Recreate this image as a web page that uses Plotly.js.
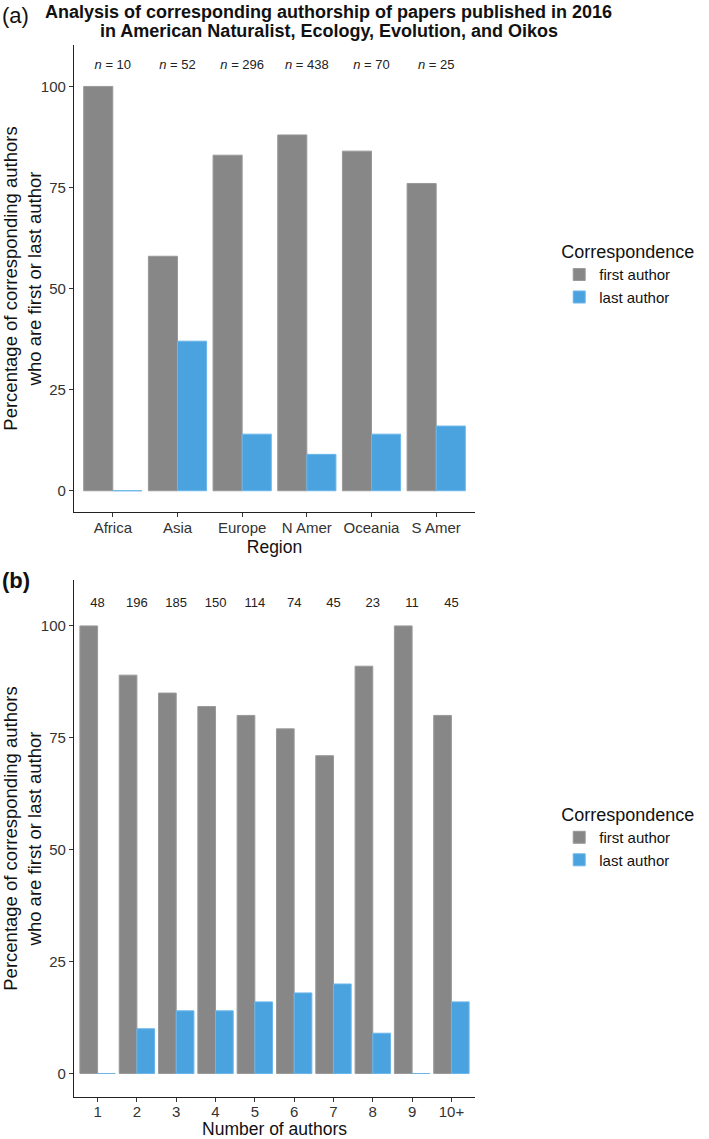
<!DOCTYPE html>
<html>
<head>
<meta charset="utf-8">
<script src="https://cdn.plot.ly/plotly-3.0.1.min.js"></script>
<style>html,body{margin:0;padding:0;background:#fff;}#chart{width:709px;height:1139px;}</style>
</head>
<body>
<div id="chart"></div>
<script>
// ---- data ----
const regions = ["Africa", "Asia", "Europe", "N Amer", "Oceania", "S Amer"];
const regionFirst = [100, 58, 83, 88, 84, 76];
const regionLast = [0, 37, 14, 9, 14, 16];
const regionN = [10, 52, 296, 438, 70, 25];

const nAuthors = ["1", "2", "3", "4", "5", "6", "7", "8", "9", "10+"];
const authorsFirst = [100, 89, 85, 82, 80, 77, 71, 91, 100, 80];
const authorsLast = [0, 10, 14, 14, 16, 18, 20, 9, 0, 16];
const authorsN = [48, 196, 185, 150, 114, 74, 45, 23, 11, 45];

const seriesNames = ["first author", "last author"];
const titleLines = [
  "Analysis of corresponding authorship of papers published in 2016",
  "in American Naturalist, Ecology, Evolution, and Oikos"
];

// ---- styling ----
const FONT = '"Liberation Sans", Arial, Helvetica, sans-serif';
const GRAY = '#878787';
const BLUE = '#4aa3df';
const labelY = 105;

function barTrace(x, y, name, color, xa, ya, legend) {
  return {
    type: 'bar', x: x, y: y, name: name, xaxis: xa, yaxis: ya,
    legend: legend, showlegend: true,
    marker: {color: color, line: {color: color === BLUE ? '#6bb6ea' : '#999999', width: 1}},
    hoverinfo: 'x+y+name'
  };
}

const traces = [
  barTrace(regions, regionFirst, seriesNames[0], GRAY, 'x', 'y', 'legend'),
  barTrace(regions, regionLast, seriesNames[1], BLUE, 'x', 'y', 'legend'),
  {
    type: 'scatter', mode: 'text', x: regions, y: regions.map(() => labelY),
    text: regionN.map(v => '<i>n</i> = ' + v), xaxis: 'x', yaxis: 'y',
    textfont: {family: FONT, size: 13, color: '#222'}, showlegend: false, hoverinfo: 'skip'
  },
  barTrace(nAuthors, authorsFirst, seriesNames[0], GRAY, 'x2', 'y2', 'legend2'),
  barTrace(nAuthors, authorsLast, seriesNames[1], BLUE, 'x2', 'y2', 'legend2'),
  {
    type: 'scatter', mode: 'text', x: nAuthors, y: nAuthors.map(() => labelY),
    text: authorsN.map(v => String(v)), xaxis: 'x2', yaxis: 'y2',
    textfont: {family: FONT, size: 13, color: '#222'}, showlegend: false, hoverinfo: 'skip'
  }
];

const axisCommon = {
  showline: true, linecolor: '#222', linewidth: 1.3,
  ticks: 'outside', ticklen: 4, tickwidth: 1.2, tickcolor: '#333',
  showgrid: false, zeroline: false, automargin: false,
  tickfont: {family: FONT, size: 15, color: '#333'}
};

const yTitle = 'Percentage of corresponding authors<br>who are first or last author';
const titleFont = {family: FONT, size: 17.5, color: '#111'};

const legendCommon = {
  font: {family: FONT, size: 15, color: '#111'},
  title: {text: 'Correspondence', font: {family: FONT, size: 18, color: '#111'}},
  bgcolor: 'rgba(0,0,0,0)', xanchor: 'left', yanchor: 'middle',
  tracegroupgap: 0, itemwidth: 30, traceorder: 'normal'
};

const layout = {
  width: 709, height: 1139,
  margin: {l: 74, r: 227, t: 45, b: 42},
  paper_bgcolor: '#fff', plot_bgcolor: '#fff',
  barmode: 'group', bargap: 0.1, bargroupgap: 0,
  font: {family: FONT, color: '#111'},
  xaxis: Object.assign({}, axisCommon, {
    domain: [0, 1], anchor: 'y', type: 'category', range: [-0.6, 5.6],
    ticklabelstandoff: -2,
    title: {text: 'Region', font: titleFont, standoff: 5}
  }),
  yaxis: Object.assign({}, axisCommon, {
    domain: [0.5561, 1], anchor: 'x', range: [-5.25, 110.25],
    tickvals: [0, 25, 50, 75, 100],
    title: {text: yTitle, font: {family: FONT, size: 18.5, color: '#111'}, standoff: 4}
  }),
  xaxis2: Object.assign({}, axisCommon, {
    domain: [0, 1], anchor: 'y2', type: 'category', range: [-0.6, 9.6],
    ticklabelstandoff: -3,
    title: {text: 'Number of authors', font: titleFont, standoff: 4}
  }),
  yaxis2: Object.assign({}, axisCommon, {
    domain: [0, 0.4914], anchor: 'x2', range: [-5.25, 110.25],
    tickvals: [0, 25, 50, 75, 100],
    title: {text: yTitle, font: {family: FONT, size: 18.5, color: '#111'}, standoff: 4}
  }),
  legend: Object.assign({}, legendCommon, {x: 1.21, y: 0.782}),
  legend2: Object.assign({}, legendCommon, {x: 1.21, y: 0.247}),
  annotations: [
    {text: '<b>' + titleLines[0] + '</b>', xref: 'paper', yref: 'paper', x: 0.635, y: 1, xanchor: 'center', yanchor: 'middle',
     yshift: 33, showarrow: false, font: {family: FONT, size: 18, color: '#111'}},
    {text: '<b>' + titleLines[1] + '</b>', xref: 'paper', yref: 'paper', x: 0.635, y: 1, xanchor: 'center', yanchor: 'middle',
     yshift: 14, showarrow: false, font: {family: FONT, size: 18, color: '#111'}},
    {text: '(a)', xref: 'paper', yref: 'paper', x: -0.184, y: 1.0, xanchor: 'left', yanchor: 'middle',
     yshift: 30, showarrow: false, font: {family: FONT, size: 22, color: '#111'}},
    {text: '<b>(b)</b>', xref: 'paper', yref: 'paper', x: -0.184, y: 0.4914, xanchor: 'left', yanchor: 'middle',
     yshift: 0, showarrow: false, font: {family: FONT, size: 22, color: '#111'}}
  ]
};

Plotly.newPlot('chart', traces, layout, {displayModeBar: false, responsive: false});
</script>
</body>
</html>
